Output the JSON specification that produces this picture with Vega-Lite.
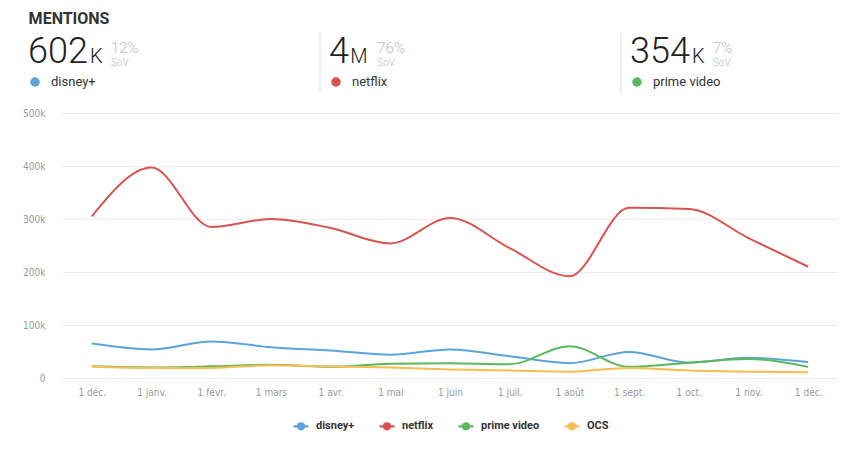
{
  "$schema": "https://vega.github.io/schema/vega-lite/v6.json",
  "background": "white",
  "padding": {"left": 22, "top": 10, "right": 8, "bottom": 8},
  "title": {"text": "MENTIONS", "anchor": "start", "fontSize": 16, "fontWeight": "bold", "font": "Roboto", "color": "#333333", "offset": 6, "dx": 6},
  "config": {
    "view": {"stroke": null},
    "font": "Roboto",
    "legend": {"layout": {"bottom": {"anchor": "middle"}}}
  },
  "resolve": {"legend": {"color": "independent"}},
  "datasets": {
    "header": [
      {"brand": "disney+", "num": "602", "unit": "K", "sov": "12%"},
      {"brand": "netflix", "num": "4", "unit": "M", "sov": "76%"},
      {"brand": "prime video", "num": "354", "unit": "K", "sov": "7%"}
    ],
    "series": [
      {"month": "2019-12-01", "brand": "disney+", "v": 65000},
      {"month": "2020-01-01", "brand": "disney+", "v": 54000},
      {"month": "2020-02-01", "brand": "disney+", "v": 69000},
      {"month": "2020-03-01", "brand": "disney+", "v": 58000},
      {"month": "2020-04-01", "brand": "disney+", "v": 52000},
      {"month": "2020-05-01", "brand": "disney+", "v": 44000},
      {"month": "2020-06-01", "brand": "disney+", "v": 54000},
      {"month": "2020-07-01", "brand": "disney+", "v": 41000},
      {"month": "2020-08-01", "brand": "disney+", "v": 28000},
      {"month": "2020-09-01", "brand": "disney+", "v": 49000},
      {"month": "2020-10-01", "brand": "disney+", "v": 29000},
      {"month": "2020-11-01", "brand": "disney+", "v": 38000},
      {"month": "2020-12-01", "brand": "disney+", "v": 30000},
      {"month": "2019-12-01", "brand": "netflix", "v": 305000},
      {"month": "2020-01-01", "brand": "netflix", "v": 397000},
      {"month": "2020-02-01", "brand": "netflix", "v": 285000},
      {"month": "2020-03-01", "brand": "netflix", "v": 300000},
      {"month": "2020-04-01", "brand": "netflix", "v": 283000},
      {"month": "2020-05-01", "brand": "netflix", "v": 254000},
      {"month": "2020-06-01", "brand": "netflix", "v": 302000},
      {"month": "2020-07-01", "brand": "netflix", "v": 245000},
      {"month": "2020-08-01", "brand": "netflix", "v": 192000},
      {"month": "2020-09-01", "brand": "netflix", "v": 321000},
      {"month": "2020-10-01", "brand": "netflix", "v": 319000},
      {"month": "2020-11-01", "brand": "netflix", "v": 264000},
      {"month": "2020-12-01", "brand": "netflix", "v": 210000},
      {"month": "2019-12-01", "brand": "prime video", "v": 22000},
      {"month": "2020-01-01", "brand": "prime video", "v": 20000},
      {"month": "2020-02-01", "brand": "prime video", "v": 22000},
      {"month": "2020-03-01", "brand": "prime video", "v": 25000},
      {"month": "2020-04-01", "brand": "prime video", "v": 21000},
      {"month": "2020-05-01", "brand": "prime video", "v": 27000},
      {"month": "2020-06-01", "brand": "prime video", "v": 28000},
      {"month": "2020-07-01", "brand": "prime video", "v": 26000},
      {"month": "2020-08-01", "brand": "prime video", "v": 60000},
      {"month": "2020-09-01", "brand": "prime video", "v": 21000},
      {"month": "2020-10-01", "brand": "prime video", "v": 29000},
      {"month": "2020-11-01", "brand": "prime video", "v": 36000},
      {"month": "2020-12-01", "brand": "prime video", "v": 21000},
      {"month": "2019-12-01", "brand": "OCS", "v": 21000},
      {"month": "2020-01-01", "brand": "OCS", "v": 19000},
      {"month": "2020-02-01", "brand": "OCS", "v": 19000},
      {"month": "2020-03-01", "brand": "OCS", "v": 24000},
      {"month": "2020-04-01", "brand": "OCS", "v": 22000},
      {"month": "2020-05-01", "brand": "OCS", "v": 20000},
      {"month": "2020-06-01", "brand": "OCS", "v": 16000},
      {"month": "2020-07-01", "brand": "OCS", "v": 14000},
      {"month": "2020-08-01", "brand": "OCS", "v": 12000},
      {"month": "2020-09-01", "brand": "OCS", "v": 19000},
      {"month": "2020-10-01", "brand": "OCS", "v": 14000},
      {"month": "2020-11-01", "brand": "OCS", "v": 12000},
      {"month": "2020-12-01", "brand": "OCS", "v": 11000}
    ]
  },
  "spacing": 14,
  "vconcat": [
    {
      "width": 602,
      "height": 60,
      "data": {"name": "header"},
      "encoding": {
        "x": {"field": "brand", "type": "nominal", "sort": ["disney+", "netflix", "prime video"], "scale": {"type": "point", "padding": 0}, "axis": null}
      },
      "layer": [
        {
          "transform": [{"filter": "datum.brand != 'disney+'"}],
          "mark": {"type": "rule", "color": "#dddddd", "strokeWidth": 1, "xOffset": -43},
          "encoding": {}
        },
        {
          "mark": {"type": "text", "align": "left", "baseline": "alphabetic", "fontSize": 36, "fontWeight": 300, "color": "#222222", "dx": -34, "dy": 0},
          "encoding": {"text": {"field": "num"}}
        },
        {
          "mark": {"type": "text", "align": "left", "baseline": "alphabetic", "fontSize": 20, "fontWeight": 300, "color": "#222222", "dy": 0, "dx": {"expr": "-33 + length(datum.num) * 20.3"}},
          "encoding": {"text": {"field": "unit"}}
        },
        {
          "mark": {"type": "text", "align": "left", "baseline": "alphabetic", "fontSize": 15, "fontWeight": 300, "color": "#bbbbbb", "dy": -10, "dx": {"expr": "-25 + length(datum.num) * 20.3 + (datum.unit == 'M' ? 19 : 13)"}},
          "encoding": {"text": {"field": "sov"}}
        },
        {
          "mark": {"type": "text", "align": "left", "baseline": "alphabetic", "fontSize": 10, "fontWeight": 300, "color": "#bbbbbb", "dy": 3, "dx": {"expr": "-25 + length(datum.num) * 20.3 + (datum.unit == 'M' ? 19 : 13)"}},
          "encoding": {"text": {"value": "SoV"}}
        },
        {
          "mark": {"type": "point", "filled": true, "opacity": 1, "size": 90, "xOffset": -27, "yOffset": 19},
          "encoding": {
            "color": {"field": "brand", "type": "nominal", "scale": {"domain": ["disney+", "netflix", "prime video", "OCS"], "range": ["#5ba4d9", "#d9534f", "#5cb85c", "#f6be4f"]}, "legend": null}
          }
        },
        {
          "mark": {"type": "text", "align": "left", "baseline": "middle", "fontSize": 13, "color": "#333333", "dx": -11, "dy": 19},
          "encoding": {"text": {"field": "brand"}}
        }
      ]
    },
    {
      "width": 776,
      "height": 265,
      "data": {"name": "series"},
      "mark": {"type": "line", "interpolate": "monotone", "strokeWidth": 2},
      "encoding": {
        "x": {
          "field": "month", "type": "ordinal", "sort": null,
          "scale": {"type": "point", "padding": 0.5},
          "axis": {
            "title": null, "domain": false, "ticks": false, "labelAngle": 0, "labelPadding": 9,
            "labelColor": "#999999", "labelFontSize": 10, "labelFont": "DejaVu Sans Condensed", "labelFontWeight": 300,
            "labelExpr": "'1 ' + ['janv.','févr.','mars','avr.','mai','juin','juil.','août','sept.','oct.','nov.','déc.'][utcmonth(toDate(datum.value))]"
          }
        },
        "y": {
          "field": "v", "type": "quantitative",
          "scale": {"domain": [0, 500000]},
          "axis": {
            "title": null, "domain": false, "ticks": false, "values": [0, 100000, 200000, 300000, 400000, 500000],
            "labelExpr": "datum.value == 0 ? '0' : format(datum.value / 1000, 'd') + 'k'",
            "labelColor": "#999999", "labelFontSize": 10, "labelFont": "DejaVu Sans Condensed", "labelPadding": 17,
            "gridColor": "#eeeeee"
          }
        },
        "color": {
          "field": "brand", "type": "nominal",
          "scale": {"domain": ["disney+", "netflix", "prime video", "OCS"], "range": ["#5ba4d9", "#d9534f", "#5cb85c", "#f6be4f"]},
          "legend": {
            "title": null, "orient": "bottom", "direction": "horizontal",
            "symbolType": "M-1,0H1M0.4,0A0.4,0.4 0 1,1 -0.4,0A0.4,0.4 0 1,1 0.4,0M0.15,0A0.15,0.15 0 1,1 -0.15,0A0.15,0.15 0 1,1 0.15,0",
            "symbolSize": 225, "symbolStrokeWidth": 2.2, "labelOffset": 6,
            "labelFontSize": 11, "labelFontWeight": "bold", "labelColor": "#333333", "columnPadding": 20, "offset": 20
          }
        }
      }
    }
  ]
}
